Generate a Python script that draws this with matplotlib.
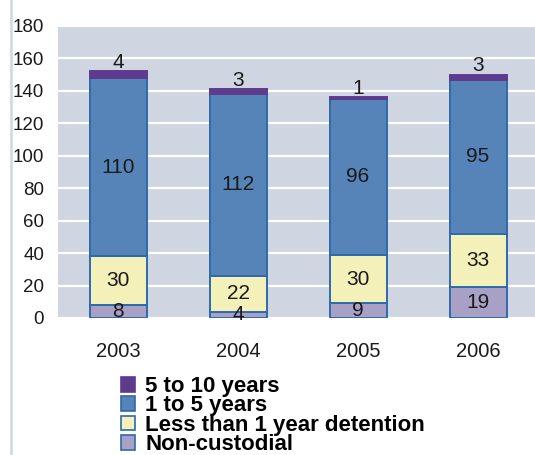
import numpy as np
import matplotlib
matplotlib.use("Agg")
import matplotlib.pyplot as plt
from matplotlib.patches import Patch
from matplotlib.lines import Line2D

plt.rcParams['font.family'] = ['Liberation Sans', 'DejaVu Sans']

# data
years = ['2003', '2004', '2005', '2006']
non_custodial = [8, 4, 9, 19]
less_than_1 = [30, 22, 30, 33]
one_to_five = [110, 112, 96, 95]
five_to_ten = [4, 3, 1, 3]

series_names = ['Non-custodial', 'Less than 1 year detention', '1 to 5 years', '5 to 10 years']
colors = ['#A9A0C6', '#F4F0B9', '#5684B8', '#5E3B8C']
edge = '#2D6AAC'
# the top (purple) segment has no blue outline
edges = [edge, edge, edge, colors[3]]

fig = plt.figure(figsize=(5.35, 4.55), dpi=100)
ax = fig.add_axes([58 / 535, 1 - 318 / 455, 480 / 535, 292 / 455])
ax.set_facecolor('#CFD6E1')

x = np.arange(len(years))
width = 0.475
stack = [non_custodial, less_than_1, one_to_five, five_to_ten]
bottom = np.zeros(len(years))
for vals, col, ec in zip(stack, colors, edges):
    vals = np.array(vals, dtype=float)
    ax.bar(x, vals, width, bottom=bottom, color=col, edgecolor=ec, linewidth=1.4, zorder=3)
    bottom += vals

# value labels: first three inside the segment, top one above the bar
bottom = np.zeros(len(years))
for k, vals in enumerate(stack):
    for i, v in enumerate(vals):
        if k < 3:
            y = bottom[i] + v / 2
        else:
            y = bottom[i] + v + 5.5
        ax.text(x[i], y, str(v), ha='center', va='center', fontsize=15, color='#1a1a1a', zorder=4)
    bottom += np.array(vals)

ax.set_xlim(-0.5, 3.5)
ax.set_ylim(0, 180)
ax.set_yticks(np.arange(0, 181, 20))
ax.set_xticks(x)
ax.set_xticklabels(years)
ax.tick_params(axis='both', length=0, colors='#1a1a1a')
ax.tick_params(axis='x', pad=17, labelsize=14.5)
ax.tick_params(axis='y', pad=10, labelsize=13.5)
ax.grid(axis='y', color='white', linewidth=1.6, zorder=1)
ax.set_axisbelow(True)
for s in ax.spines.values():
    s.set_visible(False)

# light vertical rule on the left edge
fig.add_artist(Line2D([11 / 535, 11 / 535], [0, 1], color='#D3DAE8', linewidth=2.0))

handles = [Patch(facecolor=c, edgecolor=ec, linewidth=1.2) for c, ec in zip(colors[::-1], edges[::-1])]
fig.legend(handles, series_names[::-1], loc='upper left',
           bbox_to_anchor=(121 / 535, 1 - 376 / 455), frameon=False,
           prop={'weight': 'bold', 'size': 16}, labelspacing=-0.07,
           handlelength=0.64, handleheight=0.64, handletextpad=0.45,
           borderpad=0, borderaxespad=0)

fig.savefig('out.png', dpi=100)
